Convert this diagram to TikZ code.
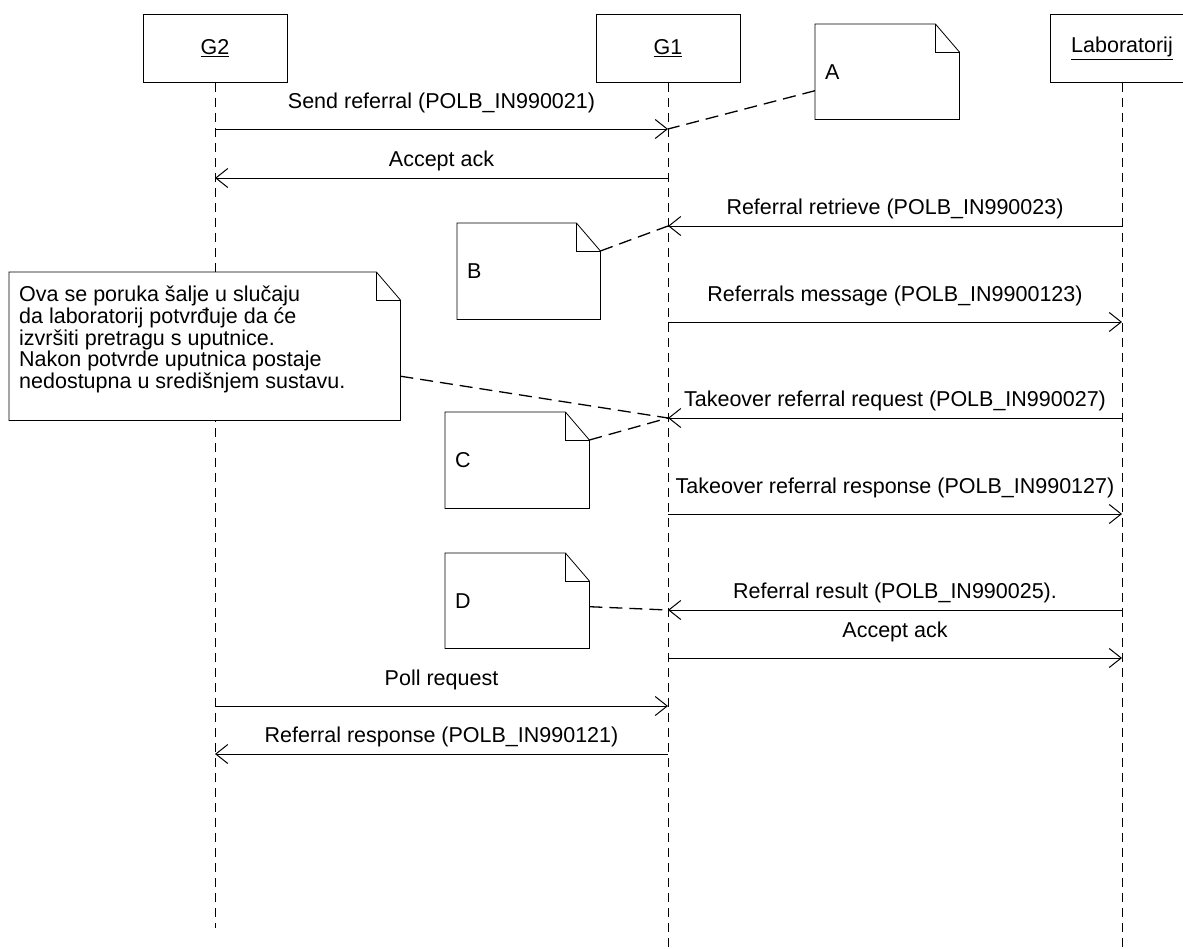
\documentclass[tikz,border=0pt]{standalone}
\usepackage{fontspec}
\setmainfont{Liberation Sans}
\usetikzlibrary{arrows.meta}

\begin{document}
\begin{tikzpicture}[x=1pt,y=-1pt,
  head/.style={draw,line width=0.8pt,minimum width=144pt,minimum height=68pt,anchor=north},
  life/.style={line width=0.9pt,dash pattern=on 9pt off 6pt},
  msg/.style={line width=1pt,-{Straight Barb[length=12pt,width=19pt]}},
  lblR/.style={anchor=base,yshift=21pt},
  lblL/.style={anchor=base,yshift=12pt},
  note/.style={anchor=north west,fill=white,inner xsep=10pt,inner ysep=0pt,align=left},
  notelink/.style={line width=1.3pt,dash pattern=on 13pt off 7pt}]
\tikzstyle{every node}=[font=\fontsize{21.5}{21}\selectfont]

\fill[white] (0,0) rectangle (1183,948);
\clip (0,0) rectangle (1183,948);

% heads and lifelines
\node[head] (G2) at (215,14) {\underline{G2}};
\node[head] (G1) at (668,14) {\underline{G1}};
\node[head] (Lab) at (1122,14) {\underline{Laboratorij}};

\coordinate (G2end) at (215,928);
\coordinate (G1end) at (668,948);
\coordinate (Labend) at (1122,948);
\draw[life] (G2) -- (G2end);
\draw[life] (G1) -- (G1end);
\draw[life] (Lab) -- (Labend);

% messages
\foreach \y/\src/\dst/\side/\lbl in {
  129/G2/G1/R/{Send referral (POLB\_IN990021)},
  178/G1/G2/L/{Accept ack},
  226/Lab/G1/L/{Referral retrieve (POLB\_IN990023)},
  322/G1/Lab/R/{Referrals message (POLB\_IN9900123)},
  418/Lab/G1/L/{Takeover referral request (POLB\_IN990027)},
  514/G1/Lab/R/{Takeover referral response (POLB\_IN990127)},
  610/Lab/G1/L/{Referral result (POLB\_IN990025).},
  658/G1/Lab/R/{Accept ack},
  706/G2/G1/R/{Poll request},
  754/G1/G2/L/{Referral response (POLB\_IN990121)}}
  \draw[msg] (\src |- 0,\y) -- node[lbl\side] {\lbl} (\dst |- 0,\y);

\coordinate (pA) at (G1 |- 0,129);
\coordinate (pB) at (G1 |- 0,226);
\coordinate (pC) at (G1 |- 0,418);
\coordinate (pD) at (G1 |- 0,610);

% notes
\node[note,minimum width=144pt,minimum height=95pt,text width=124pt] (noteA) at (815,24) {A};
\node[note,minimum width=143pt,minimum height=96pt,text width=123pt] (noteB) at (457,223) {B};
\node[note,minimum width=144pt,minimum height=96pt,text width=124pt] (noteC) at (445,412) {C};
\node[note,minimum width=144pt,minimum height=95pt,text width=124pt] (noteD) at (445,553) {D};
\node[note,minimum width=391pt,minimum height=148pt] (info) at (9,272) {};

\foreach \n in {noteA,noteB,noteC,noteD,info} {
  \fill[white] ([xshift=-24pt]\n.north east) -- (\n.north east) -- ([yshift=-28pt]\n.north east) -- cycle;
  \draw[line width=0.8pt] (\n.north west) -- ([xshift=-24pt]\n.north east)
    -- ([yshift=-28pt]\n.north east) -- (\n.south east) -- (\n.south west) -- cycle;
  \draw[line width=0.8pt] ([xshift=-24pt]\n.north east) |- ([yshift=-28pt]\n.north east);
}
\node[anchor=north west,inner sep=0pt,align=left,font=\fontsize{21.5}{21.6}\selectfont]
  (infotext) at ([xshift=10pt,yshift=-14pt]info.north west)
  {Ova se poruka šalje u slučaju\\da laboratorij potvrđuje da će\\izvršiti pretragu s uputnice.\\Nakon potvrde uputnica postaje\\nedostupna u središnjem sustavu.};

% note links
\draw[notelink] ([yshift=-19pt]noteA.west) -- (pA);
\draw[notelink] ([yshift=-28pt]noteB.north east) -- (pB);
\draw[notelink] ([yshift=-30pt]info.east) -- (pC);
\draw[notelink] ([yshift=-28pt]noteC.north east) -- (pC);
\draw[notelink] ([yshift=-6pt]noteD.east) -- (pD);
\end{tikzpicture}
\end{document}
